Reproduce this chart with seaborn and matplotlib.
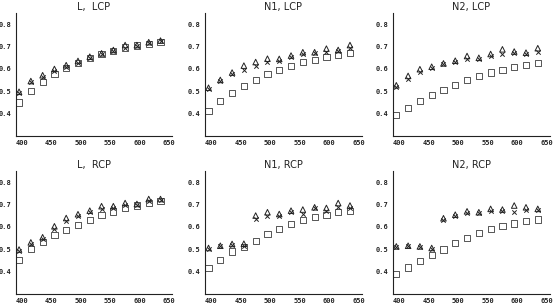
import numpy as np
import pandas as pd
import matplotlib
matplotlib.use("Agg")
import matplotlib.pyplot as plt
import seaborn as sns

# wavelengths (nm)
wavelengths = [395, 415, 435, 455, 475, 495, 515, 535, 555, 575, 595, 615, 635]

panel_titles = ["L,  LCP", "N1, LCP", "N2, LCP", "L,  RCP", "N1, RCP", "N2, RCP"]

# squares
sq_L_LCP = [0.450, 0.503, 0.543, 0.578, 0.603, 0.628, 0.648, 0.666, 0.681, 0.696, 0.705, 0.713, 0.722]
sq_N1_LCP = [0.413, 0.457, 0.493, 0.524, 0.551, 0.578, 0.594, 0.615, 0.630, 0.640, 0.652, 0.663, 0.673]
sq_N2_LCP = [0.394, 0.427, 0.458, 0.484, 0.507, 0.528, 0.551, 0.569, 0.584, 0.597, 0.609, 0.619, 0.628]
sq_L_RCP = [0.452, 0.500, 0.534, 0.564, 0.588, 0.610, 0.631, 0.654, 0.669, 0.685, 0.696, 0.707, 0.716]
sq_N1_RCP = [0.415, 0.452, 0.490, 0.511, 0.539, 0.567, 0.591, 0.612, 0.630, 0.643, 0.654, 0.666, 0.673]
sq_N2_RCP = [0.390, 0.419, 0.446, 0.475, 0.499, 0.527, 0.549, 0.572, 0.591, 0.606, 0.616, 0.625, 0.633]

# triangles
tri_L_LCP = [0.498, 0.546, 0.572, 0.600, 0.617, 0.636, 0.655, 0.670, 0.685, 0.707, 0.707, 0.720, 0.727]
tri_N1_LCP = [0.516, 0.551, 0.584, 0.615, 0.631, 0.646, 0.645, 0.660, 0.675, 0.675, 0.691, 0.685, 0.707]
tri_N2_LCP = [0.527, 0.569, 0.599, 0.610, 0.625, 0.637, 0.658, 0.650, 0.667, 0.688, 0.678, 0.673, 0.693]
tri_L_RCP = [0.499, 0.531, 0.554, 0.603, 0.640, 0.657, 0.673, 0.693, 0.693, 0.707, 0.703, 0.725, 0.725]
tri_N1_RCP = [0.506, 0.516, 0.524, 0.525, 0.651, 0.666, 0.658, 0.673, 0.678, 0.688, 0.685, 0.707, 0.696]
tri_N2_RCP = [0.513, 0.516, 0.513, 0.506, 0.639, 0.655, 0.670, 0.666, 0.681, 0.678, 0.696, 0.688, 0.681]

# crosses
x_L_LCP = [0.494, 0.540, 0.563, 0.590, 0.610, 0.628, 0.650, 0.666, 0.680, 0.695, 0.705, 0.715, 0.724]
x_N1_LCP = [0.512, 0.548, 0.576, 0.597, 0.613, 0.630, 0.637, 0.655, 0.666, 0.670, 0.678, 0.682, 0.693]
x_N2_LCP = [0.521, 0.557, 0.585, 0.603, 0.621, 0.631, 0.643, 0.645, 0.660, 0.669, 0.670, 0.669, 0.678]
x_L_RCP = [0.491, 0.524, 0.546, 0.591, 0.625, 0.648, 0.666, 0.681, 0.687, 0.700, 0.700, 0.718, 0.719]
x_N1_RCP = [0.501, 0.513, 0.519, 0.516, 0.636, 0.651, 0.651, 0.669, 0.658, 0.684, 0.673, 0.688, 0.685]
x_N2_RCP = [0.510, 0.513, 0.509, 0.501, 0.633, 0.651, 0.663, 0.661, 0.670, 0.673, 0.669, 0.678, 0.678]

squares = [sq_L_LCP, sq_N1_LCP, sq_N2_LCP, sq_L_RCP, sq_N1_RCP, sq_N2_RCP]
triangles = [tri_L_LCP, tri_N1_LCP, tri_N2_LCP, tri_L_RCP, tri_N1_RCP, tri_N2_RCP]
crosses = [x_L_LCP, x_N1_LCP, x_N2_LCP, x_L_RCP, x_N1_RCP, x_N2_RCP]

sns.set_style("white")
plt.rcParams['font.family'] = ['DejaVu Sans']

fig = plt.figure(figsize=(5.54, 3.05), dpi=100)

lefts = [0.028, 0.370, 0.709]
bottoms = [0.554, 0.036]
w, h = 0.283, 0.403

for i, title in enumerate(panel_titles):
    row, col = divmod(i, 3)
    ax = fig.add_axes([lefts[col], bottoms[row], w, h])
    df = pd.DataFrame({
        'wl': wavelengths,
        'sq': squares[i],
        'tri': triangles[i],
        'x': crosses[i],
    })
    sns.scatterplot(data=df, x='wl', y='sq', marker='s', s=20, facecolor='none',
                    edgecolor='#555555', linewidth=0.7, ax=ax)
    sns.scatterplot(data=df, x='wl', y='tri', marker='^', s=16, facecolor='none',
                    edgecolor='#222222', linewidth=0.7, ax=ax)
    sns.scatterplot(data=df, x='wl', y='x', marker='x', s=10, color='#222222',
                    linewidth=0.7, ax=ax)

    ax.set_xlim(389, 655)
    ax.set_ylim(0.3, 0.85)
    ax.set_xticks([400, 450, 500, 550, 600, 650])
    ax.set_yticks([0.4, 0.5, 0.6, 0.7, 0.8])
    ax.set_yticklabels(['0.4', '0.5', '0.6', '0.7', '0.8'])
    ax.set_xlabel('')
    ax.set_ylabel('')
    ax.set_title(title, fontsize=7, pad=2, color='#222222')
    ax.tick_params(axis='both', length=1.5, width=0.6, pad=1.5, labelsize=5,
                   colors='#222222')
    for lab in ax.get_xticklabels() + ax.get_yticklabels():
        lab.set_family('DejaVu Sans Mono')
        lab.set_fontweight('bold')
    for side in ['top', 'right']:
        ax.spines[side].set_visible(False)
    for side in ['left', 'bottom']:
        ax.spines[side].set_color('#222222')
        ax.spines[side].set_linewidth(0.8)

fig.savefig('out.png', dpi=100)
